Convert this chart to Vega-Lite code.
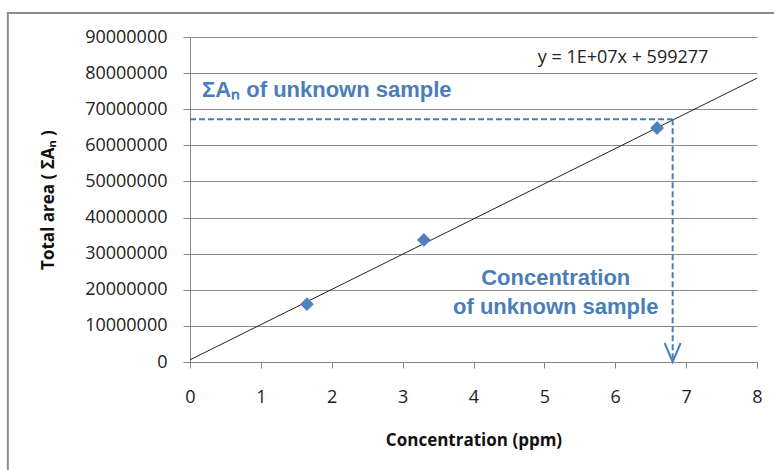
{
  "$schema": "https://vega.github.io/schema/vega-lite/v6.json",
  "width": 567,
  "height": 325,
  "autosize": {"type": "none"},
  "padding": {"left": 190, "top": 37, "right": 17, "bottom": 108},
  "background": "white",
  "config": {"view": {"stroke": null}},
  "datasets": {
    "frame": [{"conc": -2.57, "conc2": 9.5, "area": -40000000, "area2": 96650000}],
    "trend": [{"conc": 0, "area": 599277}, {"conc": 8, "area": 78600000}],
    "samples": [
      {"conc": 1.65, "area": 16000000},
      {"conc": 3.3, "area": 33800000},
      {"conc": 6.59, "area": 64800000}
    ],
    "guides": [
      {"conc": 0, "conc2": 6.81, "area": 67200000, "area2": 67200000},
      {"conc": 6.81, "conc2": 6.81, "area": 67200000, "area2": 0}
    ],
    "arrow": [{"conc": 6.81, "area": 0}],
    "labels": [
      {"conc": 5.16, "area": 23260000, "text": "Concentration"},
      {"conc": 5.16, "area": 15200000, "text": "of unknown sample"}
    ],
    "sumlabel": [{"conc": 0.17, "area": 75300000, "text": "ΣAₙ of unknown sample"}],
    "equation": [{"conc": 6.11, "area": 84200000, "text": "y = 1E+07x + 599277"}]
  },
  "encoding": {
    "x": {
      "field": "conc",
      "type": "quantitative",
      "scale": {"domain": [0, 8], "nice": false, "zero": false},
      "axis": {
        "title": "Concentration (ppm)",
        "values": [0, 1, 2, 3, 4, 5, 6, 7, 8],
        "grid": false,
        "labelFlush": false,
        "domainColor": "#868686",
        "tickColor": "#868686",
        "tickSize": 6,
        "labelPadding": 20,
        "labelFont": "Open Sans",
        "labelFontSize": 18,
        "labelColor": "#222222",
        "titleFont": "Open Sans",
        "titleFontSize": 17,
        "titleFontWeight": "bold",
        "titleColor": "#111111",
        "titlePadding": 26
      }
    },
    "y": {
      "field": "area",
      "type": "quantitative",
      "scale": {"domain": [0, 90000000], "nice": false, "zero": false},
      "axis": {
        "title": "Total area ( ΣAₙ )",
        "values": [0, 10000000, 20000000, 30000000, 40000000, 50000000, 60000000, 70000000, 80000000, 90000000],
        "format": "d",
        "grid": true,
        "gridColor": "#8c8c8c",
        "domainColor": "#868686",
        "tickColor": "#868686",
        "tickSize": 7,
        "labelPadding": 16,
        "labelFont": "Open Sans",
        "labelFontSize": 18,
        "labelColor": "#222222",
        "titleFont": "Open Sans",
        "titleFontSize": 17,
        "titleFontWeight": "bold",
        "titleColor": "#111111",
        "titlePadding": 27
      }
    }
  },
  "layer": [
    {
      "data": {"name": "frame"},
      "mark": {"type": "rect", "fill": null, "stroke": "#8c8c8c", "strokeWidth": 2, "clip": false},
      "encoding": {"x2": {"field": "conc2"}, "y2": {"field": "area2"}}
    },
    {
      "data": {"name": "trend"},
      "mark": {"type": "line", "color": "#222222", "strokeWidth": 1},
      "encoding": {}
    },
    {
      "data": {"name": "guides"},
      "mark": {"type": "rule", "color": "#4a7ebb", "strokeWidth": 2, "strokeDash": [6, 3]},
      "encoding": {"x2": {"field": "conc2"}, "y2": {"field": "area2"}}
    },
    {
      "data": {"name": "arrow"},
      "mark": {"type": "point", "shape": "M-0.42,-1L0,0L0.42,-1", "filled": false, "color": "#4a7ebb", "strokeWidth": 2, "size": 1444, "opacity": 1}
    },
    {
      "data": {"name": "samples"},
      "mark": {"type": "point", "shape": "diamond", "filled": true, "color": "#4f81bd", "size": 190, "opacity": 1}
    },
    {
      "data": {"name": "labels"},
      "mark": {"type": "text", "font": "Liberation Sans", "fontSize": 22, "fontWeight": "bold", "color": "#4a7ebb", "align": "center", "baseline": "middle"},
      "encoding": {"text": {"field": "text"}}
    },
    {
      "data": {"name": "sumlabel"},
      "mark": {"type": "text", "font": "Liberation Sans", "fontSize": 22, "fontWeight": "bold", "color": "#4a7ebb", "align": "left", "baseline": "middle"},
      "encoding": {"text": {"field": "text"}}
    },
    {
      "data": {"name": "equation"},
      "mark": {"type": "text", "font": "Open Sans", "fontSize": 18, "color": "#222222", "align": "center", "baseline": "middle"},
      "encoding": {"text": {"field": "text"}}
    }
  ]
}
